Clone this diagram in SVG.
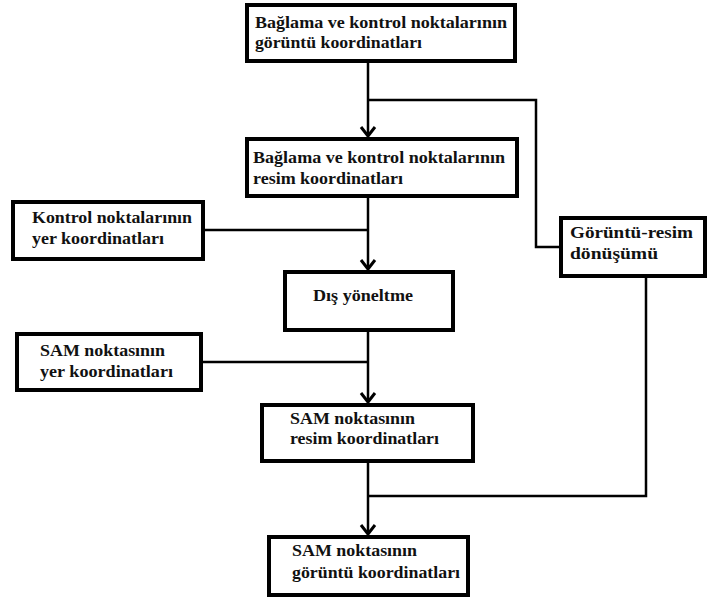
<svg xmlns="http://www.w3.org/2000/svg" width="708" height="599" viewBox="0 0 708 599">
<defs>
<style>
.box{fill:#fff;stroke:#000;stroke-width:4}
.t{font-family:'Liberation Serif','DejaVu Serif','Times New Roman',serif;font-weight:bold;font-size:16px;fill:#111}
.c{fill:none;stroke:#000;stroke-width:2.5}
</style>
<marker id="arr" markerUnits="userSpaceOnUse" markerWidth="20" markerHeight="20" viewBox="-10 -10 20 20" refX="0" refY="0" orient="auto">
<path d="M-9,-7 L0,0 L-9,7" fill="none" stroke="#000" stroke-width="3"/>
</marker>
</defs>
<rect width="708" height="599" fill="#fff"/>
<g id="connectors">
<path class="c" d="M368,63 V136" marker-end="url(#arr)"/>
<path class="c" d="M368,100 H536 V247 H559"/>
<path class="c" d="M368,198 V269" marker-end="url(#arr)"/>
<path class="c" d="M205,230 H368"/>
<path class="c" d="M368,332 V402" marker-end="url(#arr)"/>
<path class="c" d="M203,362 H368"/>
<path class="c" d="M368,463 V534" marker-end="url(#arr)"/>
<path class="c" d="M646,278 V496 H368"/>
</g>
<g font-family="Liberation Serif, DejaVu Serif, serif">
<g id="n1">
<rect class="box" x="247" y="5" width="268" height="56"/>
<text class="t" x="255" y="28" textLength="252" lengthAdjust="spacingAndGlyphs">Bağlama ve kontrol noktalarının</text>
<text class="t" x="255" y="48" textLength="167" lengthAdjust="spacingAndGlyphs">görüntü koordinatları</text>
</g>
<g id="n2">
<rect class="box" x="247" y="139" width="270" height="57"/>
<text class="t" x="253" y="163" textLength="252" lengthAdjust="spacingAndGlyphs">Bağlama ve kontrol noktalarının</text>
<text class="t" x="253" y="184" textLength="150" lengthAdjust="spacingAndGlyphs">resim koordinatları</text>
</g>
<g id="n3">
<rect class="box" x="13" y="202" width="190" height="57"/>
<text class="t" x="32" y="223" textLength="160" lengthAdjust="spacingAndGlyphs">Kontrol noktalarının</text>
<text class="t" x="32" y="244" textLength="132" lengthAdjust="spacingAndGlyphs">yer koordinatları</text>
</g>
<g id="n4">
<rect class="box" x="285" y="272" width="168" height="58"/>
<text class="t" x="313" y="301" textLength="100" lengthAdjust="spacingAndGlyphs">Dış yöneltme</text>
</g>
<g id="n5">
<rect class="box" x="561" y="218" width="144" height="58"/>
<text class="t" x="570" y="238" textLength="123" lengthAdjust="spacingAndGlyphs">Görüntü-resim</text>
<text class="t" x="570" y="259" textLength="88" lengthAdjust="spacingAndGlyphs">dönüşümü</text>
</g>
<g id="n6">
<rect class="box" x="17" y="334" width="184" height="56"/>
<text class="t" x="40" y="356" textLength="125" lengthAdjust="spacingAndGlyphs">SAM noktasının</text>
<text class="t" x="40" y="377" textLength="133" lengthAdjust="spacingAndGlyphs">yer koordinatları</text>
</g>
<g id="n7">
<rect class="box" x="262" y="405" width="211" height="56"/>
<text class="t" x="290" y="424" textLength="125" lengthAdjust="spacingAndGlyphs">SAM noktasının</text>
<text class="t" x="290" y="444" textLength="149" lengthAdjust="spacingAndGlyphs">resim koordinatları</text>
</g>
<g id="n8">
<rect class="box" x="269" y="537" width="199" height="58"/>
<text class="t" x="292" y="556" textLength="125" lengthAdjust="spacingAndGlyphs">SAM noktasının</text>
<text class="t" x="292" y="578" textLength="168" lengthAdjust="spacingAndGlyphs">görüntü koordinatları</text>
</g>
</g>
</svg>
